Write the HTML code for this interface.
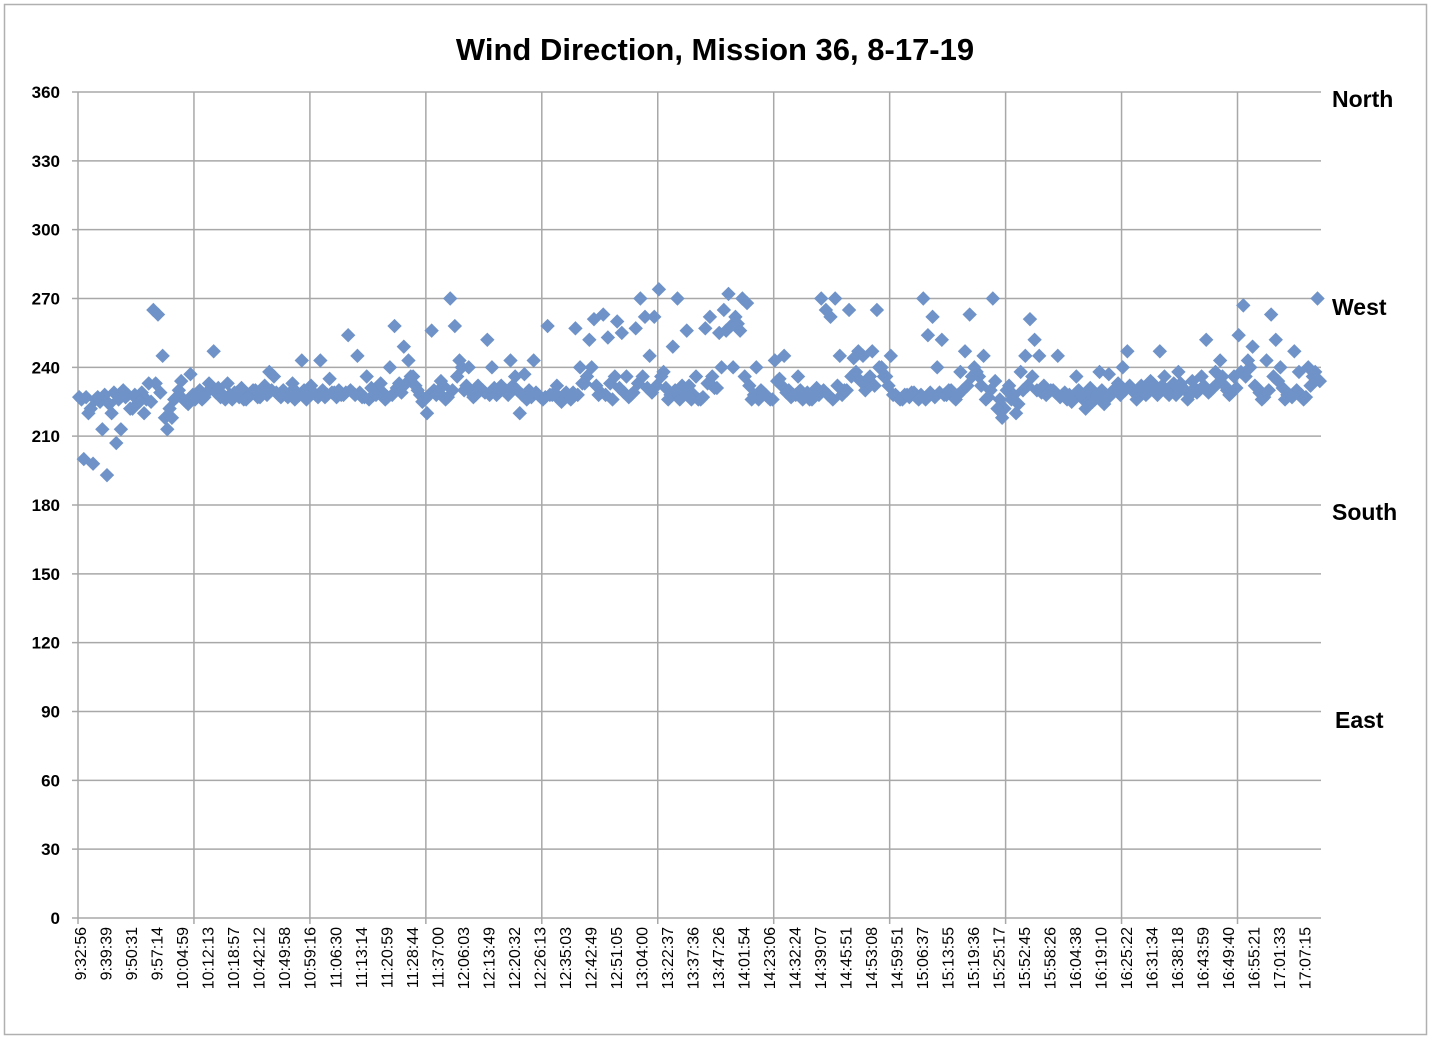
<!DOCTYPE html>
<html><head><meta charset="utf-8"><style>
body{margin:0;background:#fff;}
svg{display:block;font-family:"Liberation Sans",sans-serif;}
</style></head><body>
<svg id="chart" width="1432" height="1040" viewBox="0 0 1432 1040">
<rect x="4.5" y="4.5" width="1422" height="1030" fill="#fff" stroke="#b0b0b0" stroke-width="1.5"/>
<text x="715" y="60" text-anchor="middle" font-size="31" font-weight="bold" fill="#000">Wind Direction, Mission 36, 8-17-19</text>
<g id="grid"></g><g id="yticks"></g><g id="xticks"></g><g id="marks"></g>
<g font-size="23" font-weight="bold" fill="#000">
<text x="1332" y="107">North</text>
<text x="1332" y="315">West</text>
<text x="1332" y="520">South</text>
<text x="1335" y="728">East</text>
</g>
</svg>
<script>
const yTicks=[0,30,60,90,120,150,180,210,240,270,300,330,360];
const timeLabels=["9:32:56","9:39:39","9:50:31","9:57:14","10:04:59","10:12:13","10:18:57","10:42:12","10:49:58","10:59:16","11:06:30","11:13:14","11:20:59","11:28:44","11:37:00","12:06:03","12:13:49","12:20:32","12:26:13","12:35:03","12:42:49","12:51:05","13:04:00","13:22:37","13:37:36","13:47:26","14:01:54","14:23:06","14:32:24","14:39:07","14:45:51","14:53:08","14:59:51","15:06:37","15:13:55","15:19:36","15:25:17","15:52:45","15:58:26","16:04:38","16:19:10","16:25:22","16:31:34","16:38:18","16:43:59","16:49:40","16:55:21","17:01:33","17:07:15"];
// readings at even sample slots
const directionA=[
227,200,220,198,227,213,193,220,207,213,227,222,228,225,220,233,265,263,245,213,218,227,234,225,237,
226,230,227,233,247,231,228,233,226,229,231,226,228,230,227,232,238,236,228,230,227,233,229,243,226,
232,228,243,227,235,229,230,228,254,229,245,227,236,231,228,233,226,240,258,233,249,243,236,230,225,
220,256,228,234,226,270,258,243,230,240,227,232,230,252,240,228,232,230,243,236,220,237,230,243,228,
226,258,228,232,225,229,226,257,240,233,252,261,228,263,253,226,260,255,236,228,257,270,262,245,262,
274,238,226,249,270,232,256,226,236,226,257,262,231,255,265,272,240,259,270,268,226,240,230,228,226,
243,235,245,230,228,236,226,229,226,231,270,265,262,270,245,230,265,244,247,245,232,247,265,240,236,
245,228,226,228,227,229,226,270,254,262,240,252,228,230,226,238,247,263,240,236,245,227,270,222,218,
230,226,220,238,245,261,252,245,232,229,230,245,228,226,225,236,228,222,231,226,238,224,237,229,233,
240,247,230,226,232,228,234,230,247,236,228,233,238,231,226,234,229,236,252,230,238,243,232,228,236,
254,267,243,249,231,226,243,263,252,240,226,228,247,238,226,240,236,270];
// readings at odd sample slots
const directionB=[
226,227,222,226,225,228,224,229,226,230,228,222,226,229,226,225,233,229,218,222,226,230,226,224,228,
228,226,229,231,229,227,226,228,229,227,226,228,230,227,229,228,230,229,227,228,229,226,228,230,228,
229,227,230,228,229,227,228,229,230,228,229,227,226,228,230,229,227,228,231,229,233,236,232,228,226,
228,230,229,232,227,230,236,240,232,229,228,230,229,228,231,229,230,228,232,230,228,226,227,229,227,
227,228,229,226,228,227,229,228,233,236,240,232,229,228,233,236,231,229,227,229,233,236,231,229,232,
236,231,228,230,226,229,232,228,226,227,233,236,231,240,256,258,262,256,236,232,228,226,229,227,226,
234,232,229,227,228,230,228,226,229,228,230,228,226,232,228,230,236,238,234,230,236,232,240,236,232,
228,227,226,228,229,227,228,226,229,227,229,228,230,227,228,230,232,236,238,232,226,230,234,226,222,
232,228,224,230,232,236,230,229,228,230,229,227,229,228,227,230,226,228,225,228,230,226,229,231,228,
230,232,229,228,231,229,233,228,232,229,231,228,233,230,228,231,230,232,229,231,233,236,230,229,231,
238,236,240,232,229,227,230,236,234,231,228,227,230,228,227,232,238,234];
const X0=78,X1=1321,Y0=918,Y1=92,GRID_EVERY=50,LABEL_EVERY=11;
const N=directionA.length*2;
const step=(X1-X0)/N;
function xPos(i){return X0+(i+0.5)*step;}
function yPos(v){return Y0-(v/360)*(Y0-Y1);}
const NS="http://www.w3.org/2000/svg";
function mk(tag,attrs,parent){const e=document.createElementNS(NS,tag);for(const k in attrs)e.setAttribute(k,attrs[k]);parent.appendChild(e);return e;}
const grid=document.getElementById('grid'),yt=document.getElementById('yticks'),xt=document.getElementById('xticks'),marks=document.getElementById('marks');
yTicks.forEach(v=>{
  const y=yPos(v);
  const l=mk('line',{x1:X0-6,x2:X1,y1:y,y2:y,stroke:'#a8a8a8','stroke-width':1.5},grid);
  
  
  const t=mk('text',{x:60,y:y+6,'text-anchor':'end','font-size':17,'font-weight':'bold',fill:'#000'},yt);
  t.textContent=v;
  
  
});
for(let k=0;k*GRID_EVERY<=N;k++){
  const x=X0+k*GRID_EVERY*step;
  const l=mk('line',{x1:x,x2:x,y1:Y1,y2:Y0+6,stroke:'#a8a8a8','stroke-width':1.5},grid);
  
  
}
timeLabels.forEach((s,j)=>{
  const x=xPos(j*LABEL_EVERY)+7;
  const t=mk('text',{x:0,y:0,'text-anchor':'end','font-size':16,fill:'#000',transform:`translate(${x},${Y0+9}) rotate(-90)`},xt);
  t.textContent=s;
  
  
});
function drawPoint(v,i){
  const x=xPos(i),y=yPos(v),r=7.2;
  const p=mk('polygon',{points:`${x},${y-r} ${x+r},${y} ${x},${y+r} ${x-r},${y}`,fill:'#6f93c8'},marks);
  
  
}
directionB.forEach((v,i)=>drawPoint(v,2*i+1));
directionA.forEach((v,i)=>drawPoint(v,2*i));
</script>
</body></html>
